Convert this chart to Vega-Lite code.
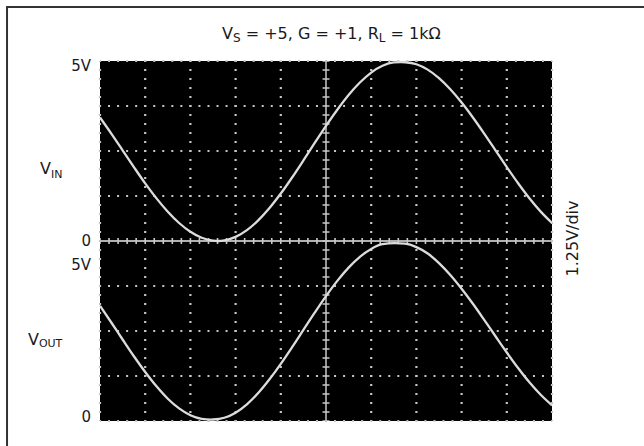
{
  "$schema": "https://vega.github.io/schema/vega-lite/v6.json",
  "width": 452,
  "height": 360,
  "autosize": {"type": "none"},
  "padding": {"left": 100, "top": 61, "right": 92, "bottom": 25},
  "background": "white",
  "config": {
    "view": {"fill": "#000000", "stroke": null},
    "font": "DejaVu Sans",
    "text": {"font": "DejaVu Sans", "color": "#1a1a1a"}
  },
  "datasets": {
    "gridx": [{"d": 0}, {"d": 1}, {"d": 2}, {"d": 3}, {"d": 4}, {"d": 6}, {"d": 7}, {"d": 8}, {"d": 9}, {"d": 10}],
    "gridy": [{"u": 0}, {"u": 1.25}, {"u": 2.5}, {"u": 3.75}, {"u": 6.25}, {"u": 7.5}, {"u": 8.75}, {"u": 10}],
    "vin": [
      {"d": 0, "v": 3.43}, {"d": 0.25, "v": 2.983}, {"d": 0.5, "v": 2.519}, {"d": 0.75, "v": 2.053},
      {"d": 1, "v": 1.601}, {"d": 1.25, "v": 1.184}, {"d": 1.5, "v": 0.814}, {"d": 1.75, "v": 0.5},
      {"d": 2, "v": 0.256}, {"d": 2.25, "v": 0.09}, {"d": 2.5, "v": 0.01}, {"d": 2.61, "v": 0.0},
      {"d": 2.75, "v": 0.015}, {"d": 3, "v": 0.114}, {"d": 3.25, "v": 0.302}, {"d": 3.5, "v": 0.573},
      {"d": 3.75, "v": 0.916}, {"d": 4, "v": 1.318}, {"d": 4.25, "v": 1.764}, {"d": 4.5, "v": 2.238},
      {"d": 4.75, "v": 2.723}, {"d": 5, "v": 3.199}, {"d": 5.25, "v": 3.647}, {"d": 5.5, "v": 4.056},
      {"d": 5.75, "v": 4.402}, {"d": 6, "v": 4.679}, {"d": 6.25, "v": 4.866}, {"d": 6.5, "v": 4.96},
      {"d": 6.66, "v": 4.97}, {"d": 6.75, "v": 4.965}, {"d": 7, "v": 4.91}, {"d": 7.25, "v": 4.761},
      {"d": 7.5, "v": 4.523}, {"d": 7.75, "v": 4.214}, {"d": 8, "v": 3.845}, {"d": 8.25, "v": 3.431},
      {"d": 8.5, "v": 2.984}, {"d": 8.75, "v": 2.519}, {"d": 9, "v": 2.054}, {"d": 9.25, "v": 1.604},
      {"d": 9.5, "v": 1.187}, {"d": 9.75, "v": 0.816}, {"d": 10, "v": 0.5}
    ],
    "vout": [
      {"d": 0, "v": 3.2}, {"d": 0.25, "v": 2.736}, {"d": 0.5, "v": 2.264}, {"d": 0.75, "v": 1.799},
      {"d": 1, "v": 1.362}, {"d": 1.25, "v": 0.963}, {"d": 1.5, "v": 0.619}, {"d": 1.75, "v": 0.35},
      {"d": 2, "v": 0.16}, {"d": 2.25, "v": 0.06}, {"d": 2.45, "v": 0.04}, {"d": 2.5, "v": 0.042},
      {"d": 2.75, "v": 0.09}, {"d": 3, "v": 0.232}, {"d": 3.25, "v": 0.462}, {"d": 3.5, "v": 0.777},
      {"d": 3.75, "v": 1.158}, {"d": 4, "v": 1.586}, {"d": 4.25, "v": 2.049}, {"d": 4.5, "v": 2.529},
      {"d": 4.75, "v": 3.008}, {"d": 5, "v": 3.469}, {"d": 5.25, "v": 3.892}, {"d": 5.5, "v": 4.261},
      {"d": 5.75, "v": 4.56}, {"d": 6, "v": 4.78}, {"d": 6.25, "v": 4.91}, {"d": 6.52, "v": 4.94},
      {"d": 6.75, "v": 4.925}, {"d": 7, "v": 4.83}, {"d": 7.25, "v": 4.653}, {"d": 7.5, "v": 4.386},
      {"d": 7.75, "v": 4.057}, {"d": 8, "v": 3.675}, {"d": 8.25, "v": 3.256}, {"d": 8.5, "v": 2.81},
      {"d": 8.75, "v": 2.354}, {"d": 9, "v": 1.903}, {"d": 9.25, "v": 1.471}, {"d": 9.5, "v": 1.074},
      {"d": 9.75, "v": 0.728}, {"d": 10, "v": 0.436}
    ]
  },
  "layer": [
    {
      "layer": [
        {
          "data": {"name": "gridx"},
          "mark": {"type": "rule", "color": "#c6c6c6", "strokeWidth": 2.2, "strokeDash": [2, 7], "strokeDashOffset": 1},
          "encoding": {"x": {"field": "d", "type": "quantitative", "scale": {"domain": [0, 10], "nice": false, "zero": false}, "axis": null}}
        },
        {
          "data": {"name": "gridy"},
          "mark": {"type": "rule", "color": "#c6c6c6", "strokeWidth": 2.2, "strokeDash": [2, 7.04], "strokeDashOffset": 1},
          "encoding": {"y": {"field": "u", "type": "quantitative", "scale": {"domain": [0, 10], "nice": false, "zero": false}, "axis": null}}
        },
        {
          "data": {"values": [{}]},
          "mark": {"type": "rule", "color": "#b0b0b0", "strokeWidth": 2.2},
          "encoding": {"y": {"datum": 5, "type": "quantitative", "scale": {"domain": [0, 10], "nice": false, "zero": false}, "axis": null}}
        },
        {
          "data": {"values": [{}]},
          "mark": {"type": "rule", "color": "#c8c8c8", "strokeWidth": 6, "strokeDash": [1.6, 7.44], "strokeDashOffset": 0.8},
          "encoding": {"y": {"datum": 5, "type": "quantitative", "scale": {"domain": [0, 10], "nice": false, "zero": false}, "axis": null}}
        },
        {
          "data": {"values": [{}]},
          "mark": {"type": "rule", "color": "#a8a8a8", "strokeWidth": 1.8},
          "encoding": {"x": {"datum": 5, "type": "quantitative", "scale": {"domain": [0, 10], "nice": false, "zero": false}, "axis": null}}
        },
        {
          "data": {"values": [{}]},
          "mark": {"type": "rule", "color": "#c8c8c8", "strokeWidth": 7, "strokeDash": [1.6, 7.4], "strokeDashOffset": 0.8},
          "encoding": {"x": {"datum": 5, "type": "quantitative", "scale": {"domain": [0, 10], "nice": false, "zero": false}, "axis": null}}
        },
        {
          "data": {"name": "vout"},
          "mark": {"type": "line", "color": "#dcdcdc", "strokeWidth": 2.3, "interpolate": "monotone"},
          "encoding": {
            "x": {"field": "d", "type": "quantitative", "scale": {"domain": [0, 10], "nice": false, "zero": false}, "axis": null},
            "y": {"field": "v", "type": "quantitative", "scale": {"domain": [0, 10], "nice": false, "zero": false}, "axis": null}
          }
        },
        {
          "data": {"values": [{}]},
          "mark": {"type": "rect", "fillOpacity": 0, "stroke": "#333333", "strokeWidth": 2},
          "encoding": {
            "x": {"datum": -2.057, "type": "quantitative", "scale": {"domain": [0, 10], "nice": false, "zero": false}, "axis": null},
            "x2": {"datum": 13},
            "y": {"datum": 11.5, "type": "quantitative", "scale": {"domain": [0, 10], "nice": false, "zero": false}, "axis": null},
            "y2": {"datum": -1.5}
          }
        },
        {
          "data": {"values": [{}]},
          "mark": {"type": "text", "align": "left", "baseline": "alphabetic", "fontSize": 16},
          "encoding": {
            "x": {"datum": 2.699, "type": "quantitative", "scale": {"domain": [0, 10], "nice": false, "zero": false}, "axis": null},
            "y": {"datum": 10.622, "type": "quantitative", "scale": {"domain": [0, 10], "nice": false, "zero": false}, "axis": null},
            "text": {"value": "V"}
          }
        },
        {
          "data": {"values": [{}]},
          "mark": {"type": "text", "align": "left", "baseline": "alphabetic", "fontSize": 12},
          "encoding": {
            "x": {"datum": 2.942, "type": "quantitative", "scale": {"domain": [0, 10], "nice": false, "zero": false}, "axis": null},
            "y": {"datum": 10.528, "type": "quantitative", "scale": {"domain": [0, 10], "nice": false, "zero": false}, "axis": null},
            "text": {"value": "S"}
          }
        },
        {
          "data": {"values": [{}]},
          "mark": {"type": "text", "align": "left", "baseline": "alphabetic", "fontSize": 16},
          "encoding": {
            "x": {"datum": 3.223, "type": "quantitative", "scale": {"domain": [0, 10], "nice": false, "zero": false}, "axis": null},
            "y": {"datum": 10.622, "type": "quantitative", "scale": {"domain": [0, 10], "nice": false, "zero": false}, "axis": null},
            "text": {"value": "= +5, G = +1, R"}
          }
        },
        {
          "data": {"values": [{}]},
          "mark": {"type": "text", "align": "left", "baseline": "alphabetic", "fontSize": 12},
          "encoding": {
            "x": {"datum": 6.168, "type": "quantitative", "scale": {"domain": [0, 10], "nice": false, "zero": false}, "axis": null},
            "y": {"datum": 10.528, "type": "quantitative", "scale": {"domain": [0, 10], "nice": false, "zero": false}, "axis": null},
            "text": {"value": "L"}
          }
        },
        {
          "data": {"values": [{}]},
          "mark": {"type": "text", "align": "left", "baseline": "alphabetic", "fontSize": 16},
          "encoding": {
            "x": {"datum": 6.429, "type": "quantitative", "scale": {"domain": [0, 10], "nice": false, "zero": false}, "axis": null},
            "y": {"datum": 10.622, "type": "quantitative", "scale": {"domain": [0, 10], "nice": false, "zero": false}, "axis": null},
            "text": {"value": "= 1kΩ"}
          }
        },
        {
          "data": {"values": [{}]},
          "mark": {"type": "text", "align": "right", "baseline": "alphabetic", "fontSize": 15},
          "encoding": {
            "x": {"datum": -0.199, "type": "quantitative", "scale": {"domain": [0, 10], "nice": false, "zero": false}, "axis": null},
            "y": {"datum": 9.731, "type": "quantitative", "scale": {"domain": [0, 10], "nice": false, "zero": false}, "axis": null},
            "text": {"value": "5V"}
          }
        },
        {
          "data": {"values": [{}]},
          "mark": {"type": "text", "align": "left", "baseline": "alphabetic", "fontSize": 16},
          "encoding": {
            "x": {"datum": -1.327, "type": "quantitative", "scale": {"domain": [0, 10], "nice": false, "zero": false}, "axis": null},
            "y": {"datum": 6.853, "type": "quantitative", "scale": {"domain": [0, 10], "nice": false, "zero": false}, "axis": null},
            "text": {"value": "V"}
          }
        },
        {
          "data": {"values": [{}]},
          "mark": {"type": "text", "align": "left", "baseline": "alphabetic", "fontSize": 11},
          "encoding": {
            "x": {"datum": -1.086, "type": "quantitative", "scale": {"domain": [0, 10], "nice": false, "zero": false}, "axis": null},
            "y": {"datum": 6.742, "type": "quantitative", "scale": {"domain": [0, 10], "nice": false, "zero": false}, "axis": null},
            "text": {"value": "IN"}
          }
        },
        {
          "data": {"values": [{}]},
          "mark": {"type": "text", "align": "right", "baseline": "alphabetic", "fontSize": 15},
          "encoding": {
            "x": {"datum": -0.199, "type": "quantitative", "scale": {"domain": [0, 10], "nice": false, "zero": false}, "axis": null},
            "y": {"datum": 4.861, "type": "quantitative", "scale": {"domain": [0, 10], "nice": false, "zero": false}, "axis": null},
            "text": {"value": "0"}
          }
        },
        {
          "data": {"values": [{}]},
          "mark": {"type": "text", "align": "right", "baseline": "alphabetic", "fontSize": 15},
          "encoding": {
            "x": {"datum": -0.199, "type": "quantitative", "scale": {"domain": [0, 10], "nice": false, "zero": false}, "axis": null},
            "y": {"datum": 4.194, "type": "quantitative", "scale": {"domain": [0, 10], "nice": false, "zero": false}, "axis": null},
            "text": {"value": "5V"}
          }
        },
        {
          "data": {"values": [{}]},
          "mark": {"type": "text", "align": "left", "baseline": "alphabetic", "fontSize": 16},
          "encoding": {
            "x": {"datum": -1.593, "type": "quantitative", "scale": {"domain": [0, 10], "nice": false, "zero": false}, "axis": null},
            "y": {"datum": 2.111, "type": "quantitative", "scale": {"domain": [0, 10], "nice": false, "zero": false}, "axis": null},
            "text": {"value": "V"}
          }
        },
        {
          "data": {"values": [{}]},
          "mark": {"type": "text", "align": "left", "baseline": "alphabetic", "fontSize": 11},
          "encoding": {
            "x": {"datum": -1.352, "type": "quantitative", "scale": {"domain": [0, 10], "nice": false, "zero": false}, "axis": null},
            "y": {"datum": 2.064, "type": "quantitative", "scale": {"domain": [0, 10], "nice": false, "zero": false}, "axis": null},
            "text": {"value": "OUT"}
          }
        },
        {
          "data": {"values": [{}]},
          "mark": {"type": "text", "align": "right", "baseline": "alphabetic", "fontSize": 15},
          "encoding": {
            "x": {"datum": -0.199, "type": "quantitative", "scale": {"domain": [0, 10], "nice": false, "zero": false}, "axis": null},
            "y": {"datum": -0.02, "type": "quantitative", "scale": {"domain": [0, 10], "nice": false, "zero": false}, "axis": null},
            "text": {"value": "0"}
          }
        },
        {
          "data": {"values": [{}]},
          "mark": {"type": "text", "align": "center", "baseline": "middle", "fontSize": 16, "angle": 270},
          "encoding": {
            "x": {"datum": 10.465, "type": "quantitative", "scale": {"domain": [0, 10], "nice": false, "zero": false}, "axis": null},
            "y": {"datum": 5.07, "type": "quantitative", "scale": {"domain": [0, 10], "nice": false, "zero": false}, "axis": null},
            "text": {"value": "1.25V/div"}
          }
        }
      ]
    },
    {
      "data": {"name": "vin"},
      "mark": {"type": "line", "color": "#dcdcdc", "strokeWidth": 2.3, "interpolate": "monotone"},
      "encoding": {
        "x": {"field": "d", "type": "quantitative", "scale": {"domain": [0, 10], "nice": false, "zero": false}, "axis": null},
        "y": {"field": "v", "type": "quantitative", "scale": {"domain": [-5, 5], "nice": false, "zero": false}, "axis": null}
      }
    }
  ],
  "resolve": {"scale": {"y": "independent"}}
}
